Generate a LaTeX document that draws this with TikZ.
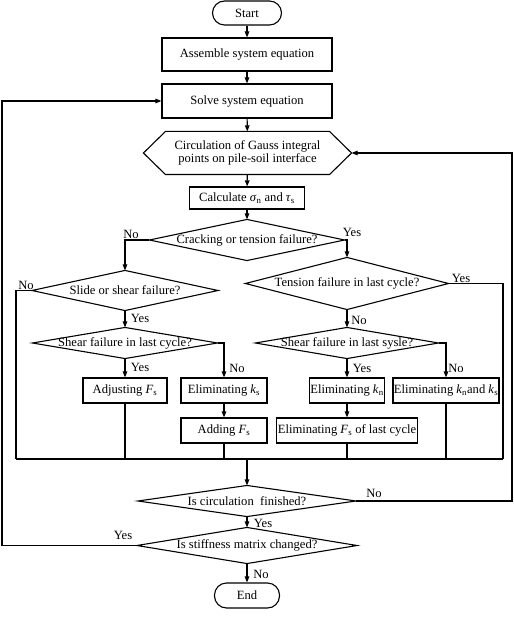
\documentclass[tikz,border=0pt]{standalone}
\usepackage{fontspec}
\setmainfont{Liberation Serif}
\usetikzlibrary{arrows.meta,calc}
\newcommand{\vsub}[2]{\textit{#1}\textsubscript{#2}}
\begin{document}
\begin{tikzpicture}[x=1pt,y=-1pt,
  font=\fontsize{12.6}{13.5}\selectfont, line width=1.1pt,
  nb/.style={rectangle, draw, inner sep=0pt, align=center},
  nd/.style={rectangle, inner sep=0pt, align=center},
  term/.style={rectangle, draw, rounded corners=12pt, inner sep=0pt},
  arr/.style={-{Triangle[length=6pt,width=4.5pt]}},
  lbl/.style={inner sep=0pt}]
\useasboundingbox (0,0) rectangle (513,617);
% nodes
\node[term, minimum width=69pt, minimum height=24pt] (start) at (247,13) {Start};
\node[nb, minimum width=170pt, minimum height=33pt] (asm) at (247,54.5) {Assemble system equation};
\node[nb, minimum width=170pt, minimum height=34pt] (solve) at (247,101) {Solve system equation};
\node[nd, minimum width=207pt, minimum height=42pt] (hex) at (247.5,153) {Circulation of Gauss integral\\points on pile-soil interface};
\draw (hex.west) -- ($(hex.north west)+(22,0)$) -- ($(hex.north east)+(-22,0)$) -- (hex.east)
  -- ($(hex.south east)+(-22,0)$) -- ($(hex.south west)+(22,0)$) -- cycle;
\node[nb, minimum width=115pt, minimum height=22pt] (calc) at (247,198) {Calculate \vsub{σ}{n} and \vsub{τ}{s}};

\node[nd, minimum width=194pt, minimum height=40pt] (d1) at (247,240) {Cracking or tension failure?};
\node[nd, minimum width=185pt, minimum height=39pt] (d2) at (125,290.5) {Slide or shear failure?};
\node[nd, minimum width=202pt, minimum height=51pt] (d3) at (347,283.5) {Tension failure in last cycle?};
\node[nd, minimum width=184pt, minimum height=30pt] (d4) at (125,343) {Shear failure in last cycle?};
\node[nd, minimum width=182pt, minimum height=30pt] (d5) at (347,343) {Shear failure in last sysle?};
\node[nd, minimum width=217pt, minimum height=30pt] (d6) at (247,501) {Is circulation\ \ finished?};
\node[nd, minimum width=219pt, minimum height=35pt] (d7) at (247,545.5) {Is stiffness matrix changed?};
\foreach \d in {d1,d2,d3,d4,d5,d6,d7}
  \draw (\d.west) -- (\d.north) -- (\d.east) -- (\d.south) -- cycle;

\node[nb, minimum width=84pt, minimum height=25pt] (adj) at (125,390.5) {Adjusting \vsub{F}{s}};
\node[nb, minimum width=86pt, minimum height=25pt] (elks) at (224,390.5) {Eliminating \vsub{k}{s}};
\node[nb, minimum width=75pt, minimum height=25pt] (elkn) at (347,390.5) {Eliminating \vsub{k}{n}};
\node[nb, minimum width=106pt, minimum height=25pt] (elknks) at (446,390.5) {Eliminating \vsub{k}{n}and \vsub{k}{s}};
\node[nb, minimum width=86pt, minimum height=25pt] (add) at (224,430.5) {Adding \vsub{F}{s}};
\node[nb, minimum width=141pt, minimum height=25pt] (elfs) at (347,430.5) {Eliminating \vsub{F}{s} of last cycle};
\node[term, minimum width=65pt, minimum height=25pt] (end) at (247,595.5) {End};

\coordinate (cl) at (16,459);
\coordinate (cr) at (503,459);
\coordinate (cm) at (247,459);
\coordinate (rr) at (512,153);
\coordinate (ll) at (2,101);

% connectors
\draw[arr] (start) -- (asm);
\draw[arr] (asm) -- (solve);
\draw[arr] (solve) -- (hex);
\draw[arr] (hex) -- (calc);
\draw[arr] (calc) -- (d1.north);
\draw[arr] (d1.west) -| (d2.north);
\draw[arr] (d1.east) -| (d3.north);
\draw (d2.west) -| (cl);
\draw (d3.east) -| (cr);
\draw[arr] (d2.south) -- (d4.north);
\draw[arr] (d3.south) -- (d5.north);
\draw[arr] (d4.south) -- (adj.north);
\draw[arr] (d4.east) -| (elks.north);
\draw[arr] (d5.south) -- (elkn.north);
\draw[arr] (d5.east) -| (elknks.north);
\draw[arr] (elks) -- (add);
\draw[arr] (elkn) -- (elfs);
\draw (adj.south) -- (adj.south |- cl);
\draw (add.south) -- (add.south |- cl);
\draw (elfs.south) -- (elfs.south |- cl);
\draw (elknks.south) -- (elknks.south |- cl);
\draw (cl) -- (cr);
\draw[arr] (cm) -- (d6.north);
\draw[arr] (d6.east) -| (rr) -- (hex.east);
\draw[arr] (d6.south) -- (d7.north);
\draw[arr] (d7.west) -| (ll) -- (solve.west);
\draw[arr] (d7.south) -- (end.north);

% labels
\node[lbl] (l1) at (131,234) {No};
\node[lbl] (l2) at (352,232) {Yes};
\node[lbl] (l3) at (26,285) {No};
\node[lbl] (l4) at (140,318) {Yes};
\node[lbl] (l5) at (140,367) {Yes};
\node[lbl] (l6) at (237,368) {No};
\node[lbl] (l7) at (461,278) {Yes};
\node[lbl] (l8) at (359,320) {No};
\node[lbl] (l9) at (362,368) {Yes};
\node[lbl] (l10) at (456,368) {No};
\node[lbl] (l11) at (374,493) {No};
\node[lbl] (l12) at (263,523) {Yes};
\node[lbl] (l13) at (123,535) {Yes};
\node[lbl] (l14) at (261,574) {No};
\end{tikzpicture}
\end{document}
